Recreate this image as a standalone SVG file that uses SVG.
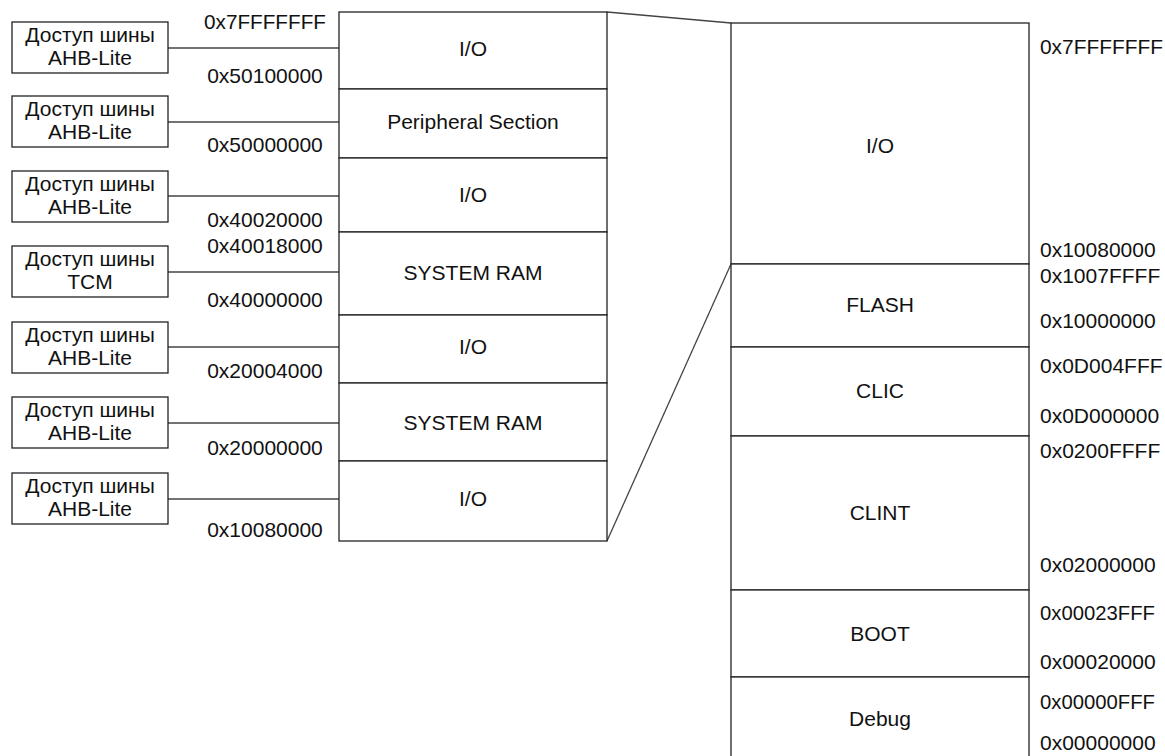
<svg xmlns="http://www.w3.org/2000/svg" width="1165" height="756" viewBox="0 0 1165 756">
<style>
text{font-family:"Liberation Sans",Arial,sans-serif;font-size:21px;fill:#111}
.c{text-anchor:middle}
.box{fill:#fff;stroke:#222;stroke-width:1.3}
.seg{fill:#fff;stroke:#222;stroke-width:1.3}
.ln{stroke:#444;stroke-width:1.3;fill:none}
</style>
<rect width="1165" height="756" fill="#fff"/>
<g id="connectors">
<line class="ln" x1="168" y1="48" x2="364" y2="48"/>
<line class="ln" x1="168" y1="122" x2="364" y2="122"/>
<line class="ln" x1="168" y1="196" x2="364" y2="196"/>
<line class="ln" x1="168" y1="272" x2="364" y2="272"/>
<line class="ln" x1="168" y1="347" x2="364" y2="347"/>
<line class="ln" x1="168" y1="423" x2="364" y2="423"/>
<line class="ln" x1="168" y1="499" x2="364" y2="499"/>
<line class="ln" x1="607" y1="12" x2="731" y2="23"/>
<line class="ln" x1="607" y1="541" x2="731" y2="264"/>
</g>
<g id="bus1"><rect class="box" x="12" y="22" width="156" height="51"/><text class="c" x="90" y="42">Доступ шины</text><text class="c" x="90" y="65">AHB-Lite</text></g>
<g id="bus2"><rect class="box" x="12" y="96" width="156" height="51"/><text class="c" x="90" y="116">Доступ шины</text><text class="c" x="90" y="139">AHB-Lite</text></g>
<g id="bus3"><rect class="box" x="12" y="171" width="156" height="51"/><text class="c" x="90" y="191">Доступ шины</text><text class="c" x="90" y="214">AHB-Lite</text></g>
<g id="bus4"><rect class="box" x="12" y="246" width="156" height="51"/><text class="c" x="90" y="266">Доступ шины</text><text class="c" x="90" y="289">TCM</text></g>
<g id="bus5"><rect class="box" x="12" y="322" width="156" height="51"/><text class="c" x="90" y="342">Доступ шины</text><text class="c" x="90" y="365">AHB-Lite</text></g>
<g id="bus6"><rect class="box" x="12" y="397" width="156" height="51"/><text class="c" x="90" y="417">Доступ шины</text><text class="c" x="90" y="440">AHB-Lite</text></g>
<g id="bus7"><rect class="box" x="12" y="473" width="156" height="51"/><text class="c" x="90" y="493">Доступ шины</text><text class="c" x="90" y="516">AHB-Lite</text></g>

<g id="left-map">
<rect class="seg" x="339" y="12" width="268" height="77"/><text class="c" x="473" y="56">I/O</text>
<rect class="seg" x="339" y="89" width="268" height="69"/><text class="c" x="473" y="129">Peripheral Section</text>
<rect class="seg" x="339" y="158" width="268" height="74"/><text class="c" x="473" y="202">I/O</text>
<rect class="seg" x="339" y="232" width="268" height="83"/><text class="c" x="473" y="280">SYSTEM RAM</text>
<rect class="seg" x="339" y="315" width="268" height="68"/><text class="c" x="473" y="354">I/O</text>
<rect class="seg" x="339" y="383" width="268" height="78"/><text class="c" x="473" y="430">SYSTEM RAM</text>
<rect class="seg" x="339" y="461" width="268" height="80"/><text class="c" x="473" y="506">I/O</text>
</g>
<g id="left-addr">
<text class="c" x="265" y="29" textLength="122" lengthAdjust="spacingAndGlyphs">0x7FFFFFFF</text>
<text class="c" x="265" y="83">0x50100000</text>
<text class="c" x="265" y="152">0x50000000</text>
<text class="c" x="265" y="227">0x40020000</text>
<text class="c" x="265" y="253">0x40018000</text>
<text class="c" x="265" y="307">0x40000000</text>
<text class="c" x="265" y="378">0x20004000</text>
<text class="c" x="265" y="455">0x20000000</text>
<text class="c" x="265" y="537">0x10080000</text>
</g>

<g id="right-map">
<rect class="seg" x="731" y="23" width="298" height="241"/><text class="c" x="880" y="153">I/O</text>
<rect class="seg" x="731" y="264" width="298" height="83"/><text class="c" x="880" y="312">FLASH</text>
<rect class="seg" x="731" y="347" width="298" height="89"/><text class="c" x="880" y="398">CLIC</text>
<rect class="seg" x="731" y="436" width="298" height="154"/><text class="c" x="880" y="520">CLINT</text>
<rect class="seg" x="731" y="590" width="298" height="87"/><text class="c" x="880" y="641">BOOT</text>
<rect class="seg" x="731" y="677" width="298" height="90"/><text class="c" x="880" y="726">Debug</text>
</g>
<g id="right-addr">
<text x="1040" y="54" textLength="123" lengthAdjust="spacingAndGlyphs">0x7FFFFFFF</text>
<text x="1040" y="257">0x10080000</text>
<text x="1040" y="283">0x1007FFFF</text>
<text x="1040" y="328">0x10000000</text>
<text x="1040" y="373">0x0D004FFF</text>
<text x="1040" y="423">0x0D000000</text>
<text x="1040" y="458">0x0200FFFF</text>
<text x="1040" y="572">0x02000000</text>
<text x="1040" y="620" textLength="115" lengthAdjust="spacingAndGlyphs">0x00023FFF</text>
<text x="1040" y="669">0x00020000</text>
<text x="1040" y="709" textLength="115" lengthAdjust="spacingAndGlyphs">0x00000FFF</text>
<text x="1040" y="750">0x00000000</text>
</g>
</svg>
